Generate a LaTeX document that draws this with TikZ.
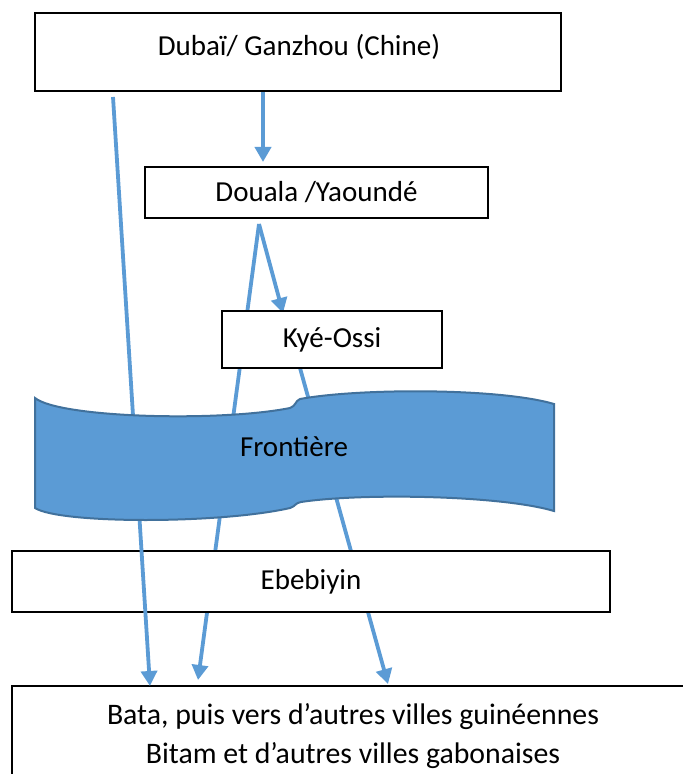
\documentclass[tikz,border=0pt]{standalone}
\usepackage{fontspec}
\setmainfont{Carlito}
\usetikzlibrary{arrows.meta}
\usetikzlibrary{backgrounds}

\definecolor{flowblue}{RGB}{91,155,213}
\definecolor{bandedge}{RGB}{65,113,156}

\tikzset{
  box/.style={draw, line width=0.65pt, fill=white, inner sep=0pt, outer sep=0pt},
  lbl/.style={font=\fontsize{14.5}{19.5}\selectfont, inner sep=0pt},
  flow/.style={flowblue, line width=1.9pt, -{Triangle[length=7.5pt,width=8pt]}},
}

\begin{document}
\begin{tikzpicture}[x=0.5pt, y=-0.5pt]
    \useasboundingbox (0,0) rectangle (682,774);

    % boxes
    \node[box, minimum width=263pt, minimum height=39pt] (dubai) at (298,52) {};
    \node[lbl] (dubaitxt) at (299,47) {Dubaï/ Ganzhou (Chine)};
    \node[box, lbl, minimum width=171.5pt, minimum height=25.5pt] (douala) at (316.5,192.5) {Douala /Yaoundé};
    \node[box, lbl, minimum width=110pt, minimum height=28.5pt] (kye) at (332,339.5) {Kyé-Ossi};
    \node[box, lbl, minimum width=299pt, minimum height=30.5pt] (ebebiyin) at (311,581.5) {Ebebiyin};
    \node[box, lbl, font=\fontsize{14.9}{19.5}\selectfont, align=center, minimum width=341pt, minimum height=50pt] (villes) at (353,736)
        {Bata, puis vers d’autres villes guinéennes\\Bitam et d’autres villes gabonaises};

    \coordinate (t1) at (263,162);
    \coordinate (s2) at (259,224);
    \coordinate (t2) at (283,313);
    \coordinate (t3) at (198,680);
    \coordinate (s4) at (300,368);
    \coordinate (t4) at (388,684);
    \coordinate (s5) at (113,97);
    \coordinate (t5) at (150,686);

    % arrows under the boxes
    \begin{scope}[on background layer]
        \draw[flow] (dubai.south -| t1) -- (t1);
        \draw[flow] (s2) -- (t2);
        \draw[flow] (s2) -- (t3);
        \draw[flow] (kye.south -| s4) -- (t4);
    \end{scope}

    \draw[flow] (s5) -- (t5);

    % border band
    \filldraw[fill=flowblue, draw=bandedge, line width=1pt]
        (35,398) .. controls (60,418) and (220,422) .. (290,408)
        .. controls (296,406) and (295,401) .. (300,399)
        .. controls (360,388) and (500,388) .. (554,404)
        -- (554,511)
        .. controls (500,495) and (360,493) .. (301,502)
        .. controls (295,503) and (296,506) .. (290,508)
        .. controls (220,524) and (60,524) .. (35,508)
        -- cycle;
    \node[lbl] (front) at (294,447) {Frontière};
\end{tikzpicture}
\end{document}
